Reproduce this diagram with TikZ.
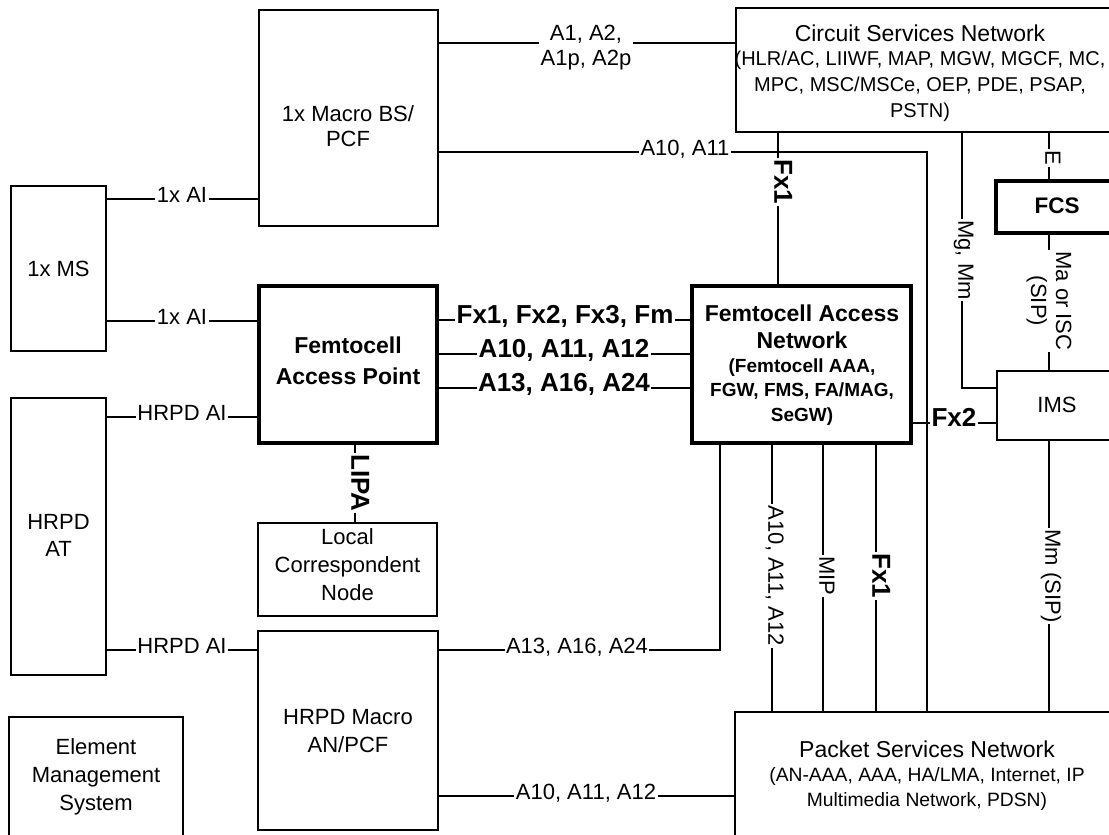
\documentclass[tikz,border=0pt]{standalone}
\usepackage{fontspec}
\setmainfont{Liberation Sans}
\begin{document}
\begin{tikzpicture}[x=1pt,y=-1pt,
  box/.style={draw, line width=1.2pt, inner sep=0pt},
  tbox/.style={draw, line width=3.8pt, inner sep=0pt},
  ln/.style={line width=1.2pt},
  lbl/.style={fill=white, inner sep=1.5pt, font=\fontsize{22}{26}\selectfont, text height=0.72em, text depth=0pt},
  lbltwo/.style={fill=white, inner sep=1.5pt, align=center, font=\fontsize{22}{25}\selectfont},
  blbl/.style={fill=white, inner sep=1.5pt, font=\bfseries\fontsize{26}{28}\selectfont, text height=0.72em, text depth=0pt},
  txt/.style={align=center, inner sep=0pt, font=\fontsize{22}{27}\selectfont},
  btxt/.style={align=center, inner sep=0pt, font=\bfseries\fontsize{23}{27}\selectfont},
  stxt/.style={align=center, inner sep=0pt, font=\fontsize{20}{26}\selectfont},
  bstxt/.style={align=center, inner sep=0pt, font=\bfseries\fontsize{19}{24.5}\selectfont},
]
\useasboundingbox (0,0) rectangle (1109,835);
\clip (0,0) rectangle (1109,835);

% boxes
\node[box, minimum width=179pt, minimum height=216pt] (macro) at (348.5,118) {};
\node[box, minimum width=394pt, minimum height=124pt] (csn) at (933,70) {};
\node[box, minimum width=95pt, minimum height=165pt] (ms) at (58.5,268.5) {};
\node[box, minimum width=95pt, minimum height=277pt] (at) at (58.5,536.5) {};
\node[tbox, minimum width=178pt, minimum height=157pt] (fap) at (348,364.5) {};
\node[tbox, minimum width=219pt, minimum height=157pt] (fan) at (801.5,364.5) {};
\node[box, minimum width=179pt, minimum height=93pt] (lcn) at (347.5,569.5) {};
\node[box, minimum width=180pt, minimum height=199pt] (hmac) at (348,730.5) {};
\node[box, minimum width=174pt, minimum height=133pt] (ems) at (96,783.5) {};
\node[box, minimum width=395pt, minimum height=138pt] (psn) at (932.5,781) {};
\node[tbox, minimum width=134pt, minimum height=52pt] (fcs) at (1063,207) {};
\node[box, minimum width=133pt, minimum height=69pt] (ims) at (1063.5,405.5) {};

% texts
\node[txt, font=\fontsize{22}{25}\selectfont] (macro-t) at (348,126) {1x Macro BS/\\PCF};
\node[txt, font=\fontsize{23}{26}\selectfont] (csn-t) at (920,33) {Circuit Services Network};
\node[stxt] (csn-s) at (920,86) {(HLR/AC, LIIWF, MAP, MGW, MGCF, MC,\\MPC, MSC/MSCe, OEP, PDE, PSAP,\\PSTN)};
\node[txt] (ms-t) at (58.5,268.5) {1x MS};
\node[txt] (at-t) at (58.5,535) {HRPD\\AT};
\node[btxt, font=\bfseries\fontsize{23}{31}\selectfont] (fap-t) at (348,361) {Femtocell\\Access Point};
\node[btxt] (fan-t) at (802,326.5) {Femtocell Access\\Network};
\node[bstxt] (fan-s) at (802,392) {(Femtocell AAA,\\FGW, FMS, FA/MAG,\\SeGW)};
\node[txt, font=\fontsize{22}{28}\selectfont] (lcn-t) at (347.5,565) {Local\\Correspondent\\Node};
\node[txt, font=\fontsize{22}{28}\selectfont] (hmac-t) at (348,731) {HRPD Macro\\AN/PCF};
\node[txt, font=\fontsize{22}{28}\selectfont] (ems-t) at (96,777) {Element\\Management\\System};
\node[txt, font=\fontsize{23}{26}\selectfont] (psn-t) at (927,749) {Packet Services Network};
\node[stxt, font=\fontsize{19.3}{25}\selectfont] (psn-s) at (927,788.5) {(AN-AAA, AAA, HA/LMA, Internet, IP\\Multimedia Network, PDSN)};
\node[btxt, font=\bfseries\fontsize{22.5}{26}\selectfont] (fcs-t) at (1057,206) {FCS};
\node[txt] (ims-t) at (1057,405) {IMS};

% connectors
\draw[ln] (macro.east |- 0,43) -- (csn.west |- 0,43)
  node[lbltwo] (l-a1) at (586,48) {A1, A2,\\A1p, A2p};
\draw[ln] (macro.east |- 0,152) -| (psn.north -| 927,0)
  node[lbl] (l-a10top) at (685,152) {A10, A11};
\draw[ln] (ms.east |- 0,199) -- (macro.west |- 0,199)
  node[lbl] (l-ai1) at (182,199) {1x AI};
\draw[ln] (ms.east |- 0,321) -- (fap.west |- 0,321)
  node[lbl] (l-ai2) at (182,321) {1x AI};
\draw[ln] (at.east |- 0,417) -- (fap.west |- 0,417)
  node[lbl] (l-hai1) at (182,417) {HRPD AI};
\draw[ln] (at.east |- 0,650) -- (hmac.west |- 0,650)
  node[lbl] (l-hai2) at (182,650) {HRPD AI};
\draw[ln] (fap.east |- 0,320) -- (fan.west |- 0,320)
  node[blbl] (l-fx) at (565,320) {Fx1, Fx2, Fx3, Fm};
\draw[ln] (fap.east |- 0,354) -- (fan.west |- 0,354)
  node[blbl] (l-a10m) at (564,354) {A10, A11, A12};
\draw[ln] (fap.east |- 0,388) -- (fan.west |- 0,388)
  node[blbl] (l-a13m) at (564,388) {A13, A16, A24};
\draw[ln] (fap.south -| 355,0) -- (lcn.north -| 355,0)
  node[blbl, rotate=-90] (l-lipa) at (355,483) {LIPA};
\draw[ln] (hmac.east |- 0,650) -| (fan.south -| 720,0)
  node[lbl] (l-a13b) at (577,650) {A13, A16, A24};
\draw[ln] (hmac.east |- 0,796) -- (psn.west |- 0,796)
  node[lbl] (l-a10b) at (586,796) {A10, A11, A12};
\draw[ln] (csn.south -| 778,0) -- (fan.north -| 778,0)
  node[blbl, rotate=-90] (l-fx1t) at (778,182) {Fx1};
\draw[ln] (csn.south -| 962,0) |- (ims.west |- 0,388)
  node[lbl, rotate=-90] (l-mg) at (962,260) {Mg, Mm};
\draw[ln] (csn.south -| 1049,0) -- (fcs.north -| 1049,0)
  node[lbl, rotate=-90] (l-e) at (1049,158) {E};
\draw[ln] (fcs.south -| 1049,0) -- (ims.north -| 1049,0)
  node[lbltwo, rotate=-90] (l-ma) at (1049,301) {Ma or ISC\\(SIP)};
\draw[ln] (fan.east |- 0,423) -- (ims.west |- 0,423)
  node[blbl] (l-fx2) at (954,423) {Fx2};
\draw[ln] (fan.south -| 772,0) -- (psn.north -| 772,0)
  node[lbl, rotate=-90] (l-a10v) at (772,576) {A10, A11, A12};
\draw[ln] (fan.south -| 823,0) -- (psn.north -| 823,0)
  node[lbl, rotate=-90] (l-mip) at (823,576) {MIP};
\draw[ln] (fan.south -| 876,0) -- (psn.north -| 876,0)
  node[blbl, rotate=-90] (l-fx1b) at (876,576) {Fx1};
\draw[ln] (ims.south -| 1049,0) -- (psn.north -| 1049,0)
  node[lbl, rotate=-90] (l-mm) at (1049,576) {Mm (SIP)};
\end{tikzpicture}
\end{document}
